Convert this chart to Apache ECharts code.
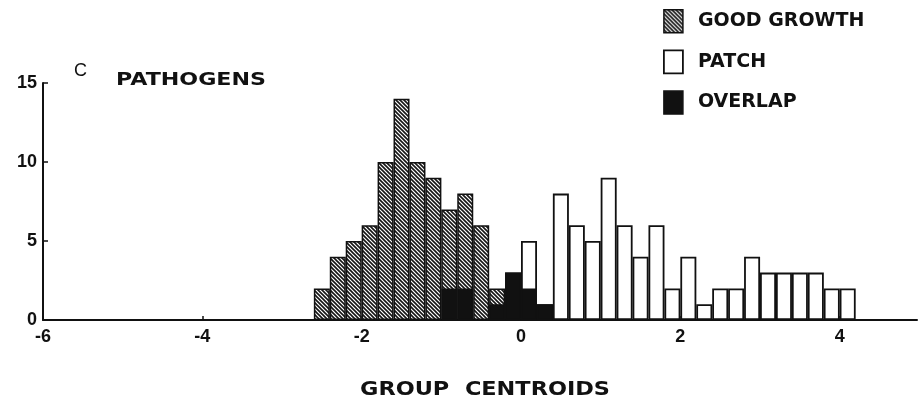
<!DOCTYPE html>
<html><head><meta charset="utf-8">
<script src="https://cdn.jsdelivr.net/npm/echarts@6/dist/echarts.min.js"></script>
<style>html,body{margin:0;padding:0;background:#fff}#c{width:921px;height:408px}</style>
</head><body><div id="c"></div>
<script>
// Histogram bins (width 0.2) — centres on the group-centroid axis
const binCenters = [-2.5,-2.3,-2.1,-1.9,-1.7,-1.5,-1.3,-1.1,-0.9,-0.7,-0.5,-0.3,-0.1,0.1,0.3,0.5,0.7,0.9,1.1,1.3,1.5,1.7,1.9,2.1,2.3,2.5,2.7,2.9,3.1,3.3,3.5,3.7,3.9,4.1];
const goodGrowth = [2,4,5,6,10,14,10,9,7,8,6,2,3,0,0,0,0,0,0,0,0,0,0,0,0,0,0,0,0,0,0,0,0,0];
const patch      = [0,0,0,0,0,0,0,0,0,0,0,0,0,5,1,8,6,5,9,6,4,6,2,4,1,2,2,4,3,3,3,3,2,2];
const overlap    = [0,0,0,0,0,0,0,0,2,2,0,1,3,2,1,0,0,0,0,0,0,0,0,0,0,0,0,0,0,0,0,0,0,0];
const seriesNames = ['GOOD GROWTH','PATCH','OVERLAP'];
const xTicks = [-6,-4,-2,0,2,4];
const yTicks = [0,5,10,15];
const panelLetter = 'C';
const panelTitle = 'PATHOGENS';
const xTitle = 'GROUP  CENTROIDS';

function hatch() {
  const s = 4, c = document.createElement('canvas');
  c.width = s; c.height = s;
  const g = c.getContext('2d');
  g.fillStyle = '#fff'; g.fillRect(0,0,s,s);
  g.strokeStyle = '#151515'; g.lineWidth = 1.6;
  g.beginPath();
  g.moveTo(-1,-1); g.lineTo(s+1,s+1);
  g.moveTo(-1,s-1); g.lineTo(1,s+1);
  g.moveTo(s-1,-1); g.lineTo(s+1,1);
  g.stroke();
  return {image: c, repeat: 'repeat'};
}
const hatchFill = hatch();

function pairs(arr){ return binCenters.map((x,i)=>[x, arr[i]]).filter(d=>d[1]>0); }

function stretched(text, left, cy, width, size, family, weight) {
  const ctx = document.createElement('canvas').getContext('2d');
  ctx.font = (weight||'bold') + ' ' + size + 'px "' + family + '"';
  const w = ctx.measureText(text).width;
  return {type:'text', x:left, y:cy, scaleX: width ? width / w : 1,
    style:{text:text, fontSize:size, fontWeight:weight||'bold', fontFamily:family, fill:'#111', align:'left', verticalAlign:'middle'}};
}

const lineCol = '#111';
const barBase = {type:'bar', barWidth:16, barGap:'-100%', animation:false};

const chart = echarts.init(document.getElementById('c'), null, {renderer:'canvas'});
chart.setOption({
  backgroundColor:'#fff',
  animation:false,
  grid:{left:43, right:4, top:83, bottom:88},
  legend:{
    orient:'vertical', left:663, top:9, itemWidth:19, itemHeight:23, itemGap:16, padding:0,
    icon:'rect', selectedMode:false,
    textStyle:{fontSize:19, fontWeight:'bold', fontFamily:'DejaVu Sans', color:'#111', padding:[0,0,0,10]},
    data:[
      {name:seriesNames[0], itemStyle:{color:hatchFill, borderColor:lineCol, borderWidth:1.5}},
      {name:seriesNames[1], itemStyle:{color:'#fff', borderColor:lineCol, borderWidth:1.8}},
      {name:seriesNames[2], itemStyle:{color:'#111', borderColor:lineCol, borderWidth:1.5}}
    ]
  },
  xAxis:{type:'value', min:xTicks[0], max:4.97, interval:2,
    axisLine:{onZero:false, lineStyle:{color:lineCol, width:2}},
    axisTick:{inside:true, length:4, lineStyle:{color:lineCol, width:1.5}},
    axisLabel:{fontSize:18, fontWeight:'bold', fontFamily:'Liberation Sans', color:'#111', margin:8, showMaxLabel:false},
    splitLine:{show:false}},
  yAxis:{type:'value', min:yTicks[0], max:yTicks[yTicks.length-1], interval:5,
    axisLine:{show:true, onZero:false, lineStyle:{color:lineCol, width:2}},
    axisTick:{show:true, inside:true, length:5, lineStyle:{color:lineCol, width:1.5}},
    axisLabel:{fontSize:18, fontWeight:'bold', fontFamily:'Liberation Sans', color:'#111', margin:6},
    splitLine:{show:false}},
  series:[
    Object.assign({}, barBase, {name:seriesNames[0], data:pairs(goodGrowth), itemStyle:{color:hatchFill, borderColor:lineCol, borderWidth:1.5}}),
    Object.assign({}, barBase, {name:seriesNames[1], data:pairs(patch), itemStyle:{color:'#fff', borderColor:lineCol, borderWidth:1.8}}),
    Object.assign({}, barBase, {name:seriesNames[2], data:pairs(overlap), itemStyle:{color:'#111', borderColor:lineCol, borderWidth:1.5}})
  ],
  graphic:[
    stretched(panelLetter, 74, 71, 0, 18, 'Liberation Sans', 'normal'),
    stretched(panelTitle, 116, 80.5, 150, 18, 'DejaVu Sans'),
    stretched(xTitle, 360, 390, 250, 19, 'DejaVu Sans')
  ]
});
</script></body></html>
